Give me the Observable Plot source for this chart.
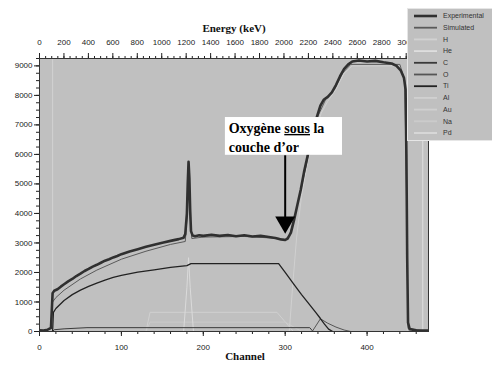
<!DOCTYPE html>
<html><head><meta charset="utf-8">
<script src="https://cdn.jsdelivr.net/npm/d3@7"></script>
<script src="https://cdn.jsdelivr.net/npm/@observablehq/plot@0.6"></script>
<style>
body{margin:0;background:#fff}
#chart{position:relative;width:492px;height:365px}
</style>
</head><body><div id="chart"></div>
<script>
// ---- data ----
const kevPerChannel = 6.7;
const channelTicks = [0, 100, 200, 300, 400];
const countTicks = [0, 1000, 2000, 3000, 4000, 5000, 6000, 7000, 8000, 9000];
const energyTicks = [0, 200, 400, 600, 800, 1000, 1200, 1400, 1600, 1800, 2000, 2200, 2400, 2600, 2800, 3000];
const legendNames = ["Experimental", "Simulated", "H", "He", "C", "O", "Ti", "Al", "Au", "Na", "Pd"];

const experimental = [[0,40],[5,30],[10,60],[14,120],[15,700],[16,1300],[18,1380],[22,1430],[26,1520],[30,1600],[35,1700],[40,1780],[45,1880],[50,1960],[55,2050],[60,2120],[65,2200],[70,2260],[75,2330],[80,2400],[85,2450],[90,2510],[95,2560],[100,2620],[110,2710],[120,2790],[130,2870],[140,2940],[150,3010],[160,3070],[170,3130],[176,3180],[178,3300],[180,4000],[181,5000],[182,5750],[183,5200],[184,4100],[185,3400],[187,3250],[190,3230],[195,3260],[200,3240],[210,3280],[220,3240],[230,3270],[240,3230],[250,3260],[260,3220],[270,3240],[280,3200],[288,3170],[295,3120],[300,3100],[303,3150],[307,3350],[311,3800],[315,4300],[319,4800],[323,5400],[327,5900],[331,6400],[335,6900],[339,7300],[343,7650],[347,7850],[352,7950],[357,8100],[362,8350],[367,8650],[372,8900],[377,9050],[382,9150],[390,9180],[400,9150],[410,9170],[420,9120],[430,9080],[436,9000],[441,8850],[445,8600],[447,8200],[448,6000],[449,2500],[450,300],[452,80],[460,40],[475,30]];
const simulated = [[16,1000],[20,1150],[30,1400],[50,1780],[70,2080],[100,2450],[130,2720],[160,2950],[178,3050],[180,3800],[182,5300],[184,3900],[186,3150],[200,3200],[250,3220],[295,3150],[300,3120],[305,3250],[310,3700],[320,4900],[330,6200],[340,7300],[350,7900],[360,8200],[370,8750],[380,9050],[440,9050],[446,8500],[448,5000],[450,100],[475,0]];
const hCurve = [[10,0],[16,0],[16,9400]];
const heCurve = [[462,0],[468,0],[468,9400]];
const cCurve = [[16,0],[18,60],[30,90],[58,130],[330,130],[334,0],[475,0]];
const oCurve = [[320,0],[333,0],[343,430],[352,280],[362,150],[372,50],[380,0]];
const tiCurve = [[16,0],[17,650],[20,780],[30,1050],[40,1250],[50,1400],[60,1530],[70,1640],[80,1740],[90,1830],[100,1900],[120,2010],[140,2090],[160,2170],[180,2230],[185,2300],[292,2300],[300,2000],[310,1620],[320,1250],[330,900],[338,620],[343,440],[348,250],[353,80],[358,0]];
const alCurve = [[130,0],[135,650],[290,650],[310,0]];
const auCurve = [[305,0],[309,1500],[314,3200],[320,4600],[328,5800],[336,6700],[344,7400],[352,7800],[362,8200],[372,8750],[382,9000],[440,9000],[446,8500],[449,0],[455,0]];
const naCurve = [[130,0],[135,320],[300,320],[320,0]];
const pdCurve = [[176,0],[180,1500],[182,2500],[184,1500],[188,0]];

const noteLines = ["Oxygène sous la", "couche d’or"];
const noteBox = {x1: 227, x2: 370, y1: 5970, y2: 7250};
const notePos = [{x: 231, y: 6880}, {x: 231, y: 6240}];
const arrowFrom = {x: 300, y: 5970}, arrowTo = {x: 300, y: 3700};

// ---- styles ----
const styles = {
  "Experimental": {stroke: "#303030", w: 2.6},
  "Simulated": {stroke: "#5a5a5a", w: 1},
  "H": {stroke: "#d2d2d2", w: 1},
  "He": {stroke: "#dedede", w: 1},
  "C": {stroke: "#3a3a3a", w: 1},
  "O": {stroke: "#555555", w: 1},
  "Ti": {stroke: "#222222", w: 1.3},
  "Al": {stroke: "#d0d0d0", w: 1},
  "Au": {stroke: "#d0d0d0", w: 1},
  "Na": {stroke: "#cbcbcb", w: 1},
  "Pd": {stroke: "#dadada", w: 1}
};
const series = {"Experimental": experimental, "Simulated": simulated, "H": hCurve, "He": heCurve, "C": cCurve, "O": oCurve, "Ti": tiCurve, "Al": alCurve, "Au": auCurve, "Na": naCurve, "Pd": pdCurve};
const drawOrder = ["H","He","Al","Na","Pd","Au","C","O","Ti","Simulated","Experimental"];

const lineMarks = drawOrder.map(n => Plot.line(series[n], {x: d => d[0], y: d => d[1], stroke: styles[n].stroke, strokeWidth: styles[n].w, clip: true}));

const yMinor = d3.range(0, 9251, 250);
const xMinor = d3.range(0, 476, 20);
const eMinor = d3.range(0, 3151, 50);

const chart = Plot.plot({
  width: 492, height: 365,
  marginLeft: 39, marginRight: 64, marginTop: 58, marginBottom: 34,
  x: {domain: [0, 475]},
  y: {domain: [0, 9250]},
  style: {background: "transparent", fontFamily: "Liberation Sans, Arial, sans-serif", fontSize: "8px", color: "#222"},
  marks: [
    Plot.frame({fill: "#c0c0c0"}),
    ...lineMarks,
    Plot.rect([noteBox], {x1: "x1", x2: "x2", y1: "y1", y2: "y2", fill: "white"}),
    Plot.text(noteLines.map((t, i) => ({...notePos[i], t})), {x: "x", y: "y", text: "t", textAnchor: "start", fontFamily: "Liberation Serif, Times New Roman, serif", fontWeight: "bold", fontSize: 14, fill: "black"}),
    Plot.link([{a: arrowFrom, b: arrowTo}], {x1: d => d.a.x, y1: d => d.a.y, x2: d => d.b.x, y2: d => d.b.y, stroke: "black", strokeWidth: 2}),
    Plot.dot([arrowTo], {x: "x", y: "y", symbol: "triangle", r: 7.4, rotate: 180, fill: "black", stroke: "none"}),
    Plot.axisY({ticks: yMinor, tickSize: 3, tickFormat: () => "", label: null}),
    Plot.axisY({ticks: countTicks, tickSize: 5, tickPadding: 2, tickFormat: d => String(d), label: null}),
    Plot.axisX({ticks: xMinor, tickSize: 3, tickFormat: () => "", label: null}),
    Plot.axisX({ticks: channelTicks, tickSize: 5, tickPadding: 8, tickFormat: d => String(d), label: null}),
    Plot.axisX({anchor: "top", ticks: eMinor.map(e => e / kevPerChannel), tickSize: 3, tickFormat: () => "", label: null}),
    Plot.axisX({anchor: "top", ticks: energyTicks.map(e => e / kevPerChannel), tickSize: 6, tickPadding: 8, tickFormat: d => String(Math.round(d * kevPerChannel)), label: null}),
    Plot.frame({stroke: "#333", strokeWidth: 1}),
    Plot.text(["Energy (keV)"], {frameAnchor: "top", dy: -34, text: d => d, fontFamily: "Liberation Serif, serif", fontWeight: "bold", fontSize: 11, fill: "#111"}),
    Plot.text(["Channel"], {frameAnchor: "bottom", dy: 28, dx: 11, text: d => d, fontFamily: "Liberation Serif, serif", fontWeight: "bold", fontSize: 11, fill: "#111"})
  ]
});
document.getElementById("chart").appendChild(chart);

// underline "sous"
const svg = d3.select(chart);
svg.selectAll("text").each(function() {
  if (this.textContent === noteLines[0]) {
    const el = d3.select(this);
    el.text(null);
    el.append("tspan").text("Oxygène ");
    el.append("tspan").attr("text-decoration", "underline").style("text-decoration", "underline").text("sous");
    el.append("tspan").text(" la");
  }
});

// legend (drawn over the top-right corner)
const lg = svg.append("g").attr("class", "legend").attr("text-anchor", "start");
lg.append("rect").attr("x", 407.5).attr("y", 8.5).attr("width", 90).attr("height", 132).attr("fill", "#c0c0c0").attr("stroke", "#e6e6e6");
legendNames.forEach((n, i) => {
  const yy = 16 + i * 11.7;
  lg.append("line").attr("x1", 414).attr("x2", 437).attr("y1", yy).attr("y2", yy)
    .attr("stroke", styles[n].stroke).attr("stroke-width", Math.max(1.8, styles[n].w));
  lg.append("text").attr("x", 443).attr("y", yy).attr("dy", "0.32em").attr("text-anchor", "start")
    .attr("font-family", "Liberation Sans, sans-serif").attr("font-size", 7).attr("fill", "#333").text(n);
});
</script>
</body></html>
